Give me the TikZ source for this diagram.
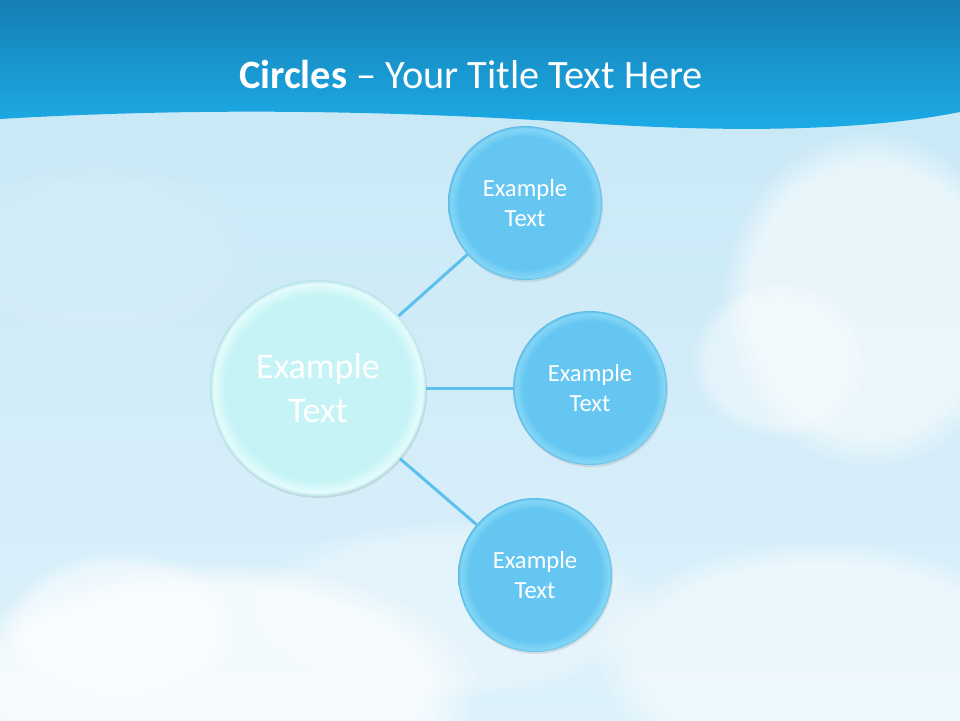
\documentclass[tikz,border=0pt]{standalone}
\usepackage{fontspec}
\setmainfont{Carlito}
\usetikzlibrary{shadows,fadings}

\definecolor{skytop}{HTML}{C6E7F6}
\definecolor{skylow}{HTML}{DCF1FB}
\definecolor{bandtop}{HTML}{157FB5}
\definecolor{bandlow}{HTML}{1DADE8}
\definecolor{bubblefill}{HTML}{64C6F1}
\definecolor{bubblerim}{HTML}{84D6F6}
\definecolor{bubbleedge}{HTML}{5BBBE6}
\definecolor{corefill}{HTML}{C6F4F6}
\definecolor{corerim}{HTML}{E4FBFB}
\definecolor{coreedge}{HTML}{B6E4E8}
\definecolor{linkblue}{HTML}{5CC0EE}

\pgfdeclareradialshading{bubble}{\pgfpoint{0bp}{0bp}}{color(0bp)=(bubblefill); color(21.5bp)=(bubblefill); color(24.2bp)=(bubblerim); color(25bp)=(bubbleedge); color(50bp)=(bubbleedge)}
\pgfdeclareradialshading{core}{\pgfpoint{0bp}{0bp}}{color(0bp)=(corefill); color(21.5bp)=(corefill); color(24.2bp)=(corerim); color(25bp)=(coreedge); color(50bp)=(coreedge)}

\tikzset{
  cloud/.style={white, path fading=circle with fuzzy edge 20 percent},
  bubble/.style={circle, inner sep=0pt, minimum size=154pt, shading=bubble, text=white, align=center,
    font=\fontsize{24.6}{30}\selectfont, drop shadow={opacity=.2, shadow xshift=1pt, shadow yshift=-2pt}},
  core/.style={bubble, minimum size=216pt, shading=core, font=\fontsize{36}{44}\selectfont},
  link/.style={linkblue, line width=3pt},
  title/.style={text=white, font=\fontsize{40.3}{48}\selectfont}
}

\begin{document}
\begin{tikzpicture}[x=1pt, y=-1pt]
\useasboundingbox (0,0) rectangle (960,720);
\shade[top color=skytop, bottom color=skylow] (0,0) rectangle (960,720);
% clouds
\fill[cloud, opacity=.55] (870,300) ellipse (150 and 170);
\fill[cloud, opacity=.4] (780,360) ellipse (90 and 80);
\fill[cloud, opacity=.7] (210,690) ellipse (270 and 130);
\fill[cloud, opacity=.5] (120,630) ellipse (120 and 80);
\fill[cloud, opacity=.5] (820,660) ellipse (230 and 120);
\fill[cloud, opacity=.3] (450,610) ellipse (210 and 90);
\fill[cloud, opacity=.1] (100,250) ellipse (150 and 90);
% header band
\shade[top color=bandtop, bottom color=bandlow] (0,0) -- (960,0) -- (960,112)
  .. controls (880,128) and (760,134) .. (600,124)
  .. controls (420,112) and (220,106) .. (0,119) -- cycle;
\node[title] (head) at (471,75) {\textbf{Circles} – Your Title Text Here};

\node[core] (core) at (318,388) {Example\\Text};
\foreach \n/\x/\y in {top/525/203, mid/590/388, low/535/575}{
  \node[bubble] (\n) at (\x,\y) {Example\\Text};
  \draw[link] (core) -- (\n);
}
\end{tikzpicture}
\end{document}
